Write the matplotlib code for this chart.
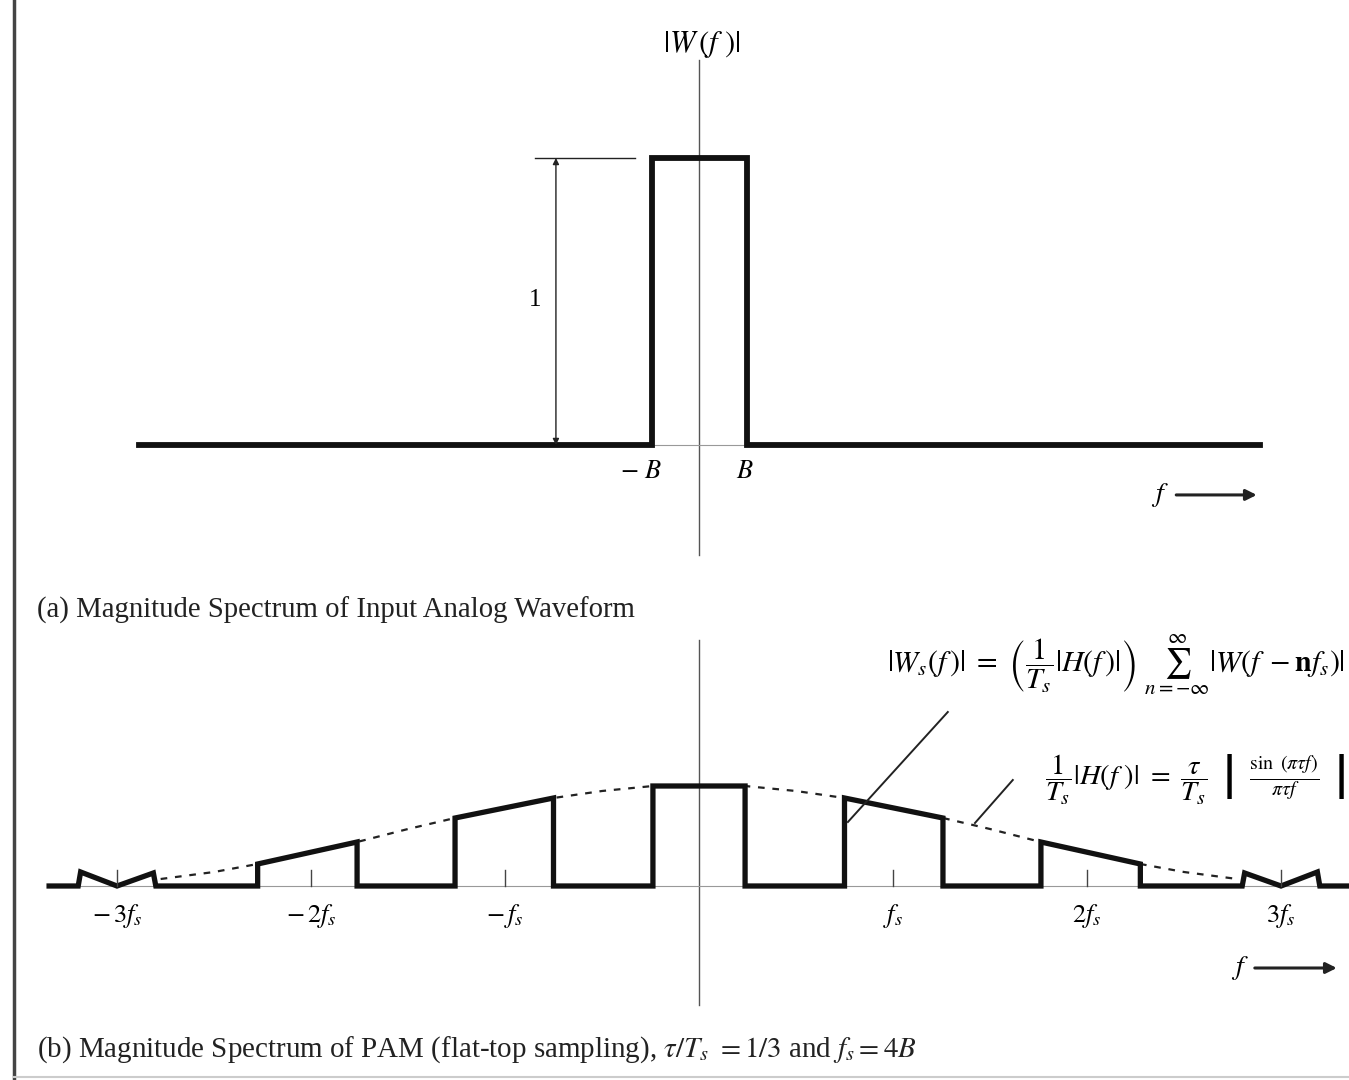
import numpy as np
import matplotlib.pyplot as plt
from matplotlib.lines import Line2D

plt.rcParams['font.family'] = ['Liberation Serif', 'DejaVu Serif']
plt.rcParams['mathtext.fontset'] = 'stix'

# === DATA (frequency in units of B, magnitude relative to the centre block) === #
# (a) input spectrum |W(f)|
w_f = [-11.55, -0.97, -0.97, 0.99, 0.99, 11.57]
w_mag = [0, 0, 1, 1, 0, 0]

# (b) PAM spectrum |Ws(f)|, flat-top sampling
ws_f = [-13.4, -12.8, -12.75, -12.0, -11.25, -11.2, -9.1, -9.1, -7.05, -7.05,
        -5.03, -5.03, -3.0, -3.0, -0.95, -0.95, 0.95, 0.95, 3.0, 3.0,
        5.03, 5.03, 7.05, 7.05, 9.1, 9.1, 11.2, 11.25, 12.0, 12.75, 12.8, 13.4]
ws_mag = [0, 0, 0.14, 0, 0.13, 0, 0, 0.22, 0.44, 0,
          0, 0.68, 0.88, 0, 0, 1.0, 1.0, 0, 0, 0.88,
          0.68, 0, 0, 0.44, 0.22, 0, 0, 0.13, 0, 0.14, 0, 0]

# envelope (1/Ts)|H(f)|, dashed
env_f = [-11.1, -10, -9.1, -8, -7.05, -6, -5.03, -4, -3.0, -2, -0.95,
         0.95, 2, 3.0, 4, 5.03, 6, 7.05, 8, 9.1, 10, 11.1]
env_mag = [0.07, 0.14, 0.22, 0.33, 0.44, 0.57, 0.68, 0.78, 0.88, 0.95, 1.0,
           1.0, 0.95, 0.88, 0.78, 0.68, 0.57, 0.44, 0.33, 0.22, 0.14, 0.07]

tick_pos = [-12, -8, -4, 4, 8, 12]
tick_lab = [r'$-\,3f_s$', r'$-\,2f_s$', r'$-\,f_s$', r'$f_s$', r'$2f_s$', r'$3f_s$']

# === FIGURE === #
W, H = 1349, 1080
fig = plt.figure(figsize=(W / 100, H / 100), dpi=100)
px_B = 48.5
x0 = 699
xlim = (-x0 / px_B, (W - x0) / px_B)

# --- (a) --- #
ax1 = fig.add_axes([0, (H - 580) / H, 1, 560 / H])
ax1.set_xlim(xlim)
ax1.set_ylim((445 - 580) / 287, (445 - 20) / 287)
ax1.axis('off')

ax1.plot([0, 0], [-0.383, 1.34], color='#555555', lw=1.0)
ax1.plot([-0.97, 0.99], [0, 0], color='#999999', lw=0.8)
ax1.plot(w_f, w_mag, color='#111111', lw=4.2, solid_joinstyle='miter')
ax1.text(0.05, 1.394, r'$|W\,(f\ )|$', ha='center', va='center', fontsize=22)

# height marker "1"
ax1.plot([-3.38, -1.32], [1, 1], color='#222222', lw=1.0)
ax1.annotate('', xy=(-2.95, 1), xytext=(-2.95, 0),
             arrowprops=dict(arrowstyle='<|-|>', color='#222222', lw=1.0,
                             mutation_scale=9, shrinkA=0, shrinkB=0))
ax1.text(-3.38, 0.505, '1', ha='center', va='center', fontsize=18)

ax1.text(-1.2, -0.094, r'$-\ B$', ha='center', va='center', fontsize=19)
ax1.text(0.95, -0.094, r'$B$', ha='center', va='center', fontsize=19)
ax1.text(9.5, -0.174, r'$f$', ha='center', va='center', fontsize=20)
ax1.annotate('', xy=(11.5, -0.174), xytext=(9.84, -0.174),
             arrowprops=dict(arrowstyle='-|>', color='#222222', lw=2.2,
                             mutation_scale=16, shrinkA=0, shrinkB=0))

# --- (b) --- #
ax2 = fig.add_axes([0, 40 / H, 1, 420 / H])
ax2.set_xlim(xlim)
ax2.set_ylim((886 - 1040) / 100, (886 - 620) / 100)
ax2.axis('off')

ax2.plot([0, 0], [-1.19, 2.46], color='#555555', lw=1.0)
ax2.plot([-13.4, 13.4], [0, 0], color='#999999', lw=0.8)
ax2.plot(env_f, env_mag, color='#222222', lw=1.6, ls=(0, (3, 3.5)))
ax2.plot(ws_f, ws_mag, color='#111111', lw=3.8, solid_joinstyle='miter')

for p, lab in zip(tick_pos, tick_lab):
    ax2.plot([p, p], [0, 0.16], color='#444444', lw=1.0)
    ax2.text(p, -0.3, lab, ha='center', va='center', fontsize=19)

ax2.text(11.15, -0.82, r'$f$', ha='center', va='center', fontsize=20)
ax2.annotate('', xy=(13.15, -0.82), xytext=(11.46, -0.82),
             arrowprops=dict(arrowstyle='-|>', color='#222222', lw=2.2,
                             mutation_scale=16, shrinkA=0, shrinkB=0))

ax2.text(13.32, 2.21,
         r'$|W_s(f\,)|\ =\ \left(\dfrac{1}{T_s}|H(f\,)|\right)\ \sum_{n=-\infty}^{\infty}|W(f\ -\mathbf{n}f_s)|$',
         ha='right', va='center', fontsize=21.5)
ax2.plot([5.13, 3.07], [1.74, 0.64], color='#222222', lw=1.4)

ax2.text(13.32, 1.06,
         r'$\dfrac{1}{T_s}|H(f\ )|\ =\ \dfrac{\tau}{T_s}\ \ \left|\ \ \frac{\sin\ (\pi\tau f)}{\pi\tau f}\ \ \right|$',
         ha='right', va='center', fontsize=20.5)
ax2.plot([6.47, 5.69], [1.06, 0.63], color='#222222', lw=1.4)

# captions
fig.text(37 / W, 1 - 610 / H, '(a) Magnitude Spectrum of Input Analog Waveform',
         ha='left', va='center', fontsize=20.7, color='#222222')
fig.text(37 / W, 1 - 1050 / H,
         r'(b) Magnitude Spectrum of PAM (flat-top sampling), $\tau/T_s\ = 1/3$ and $f_s = 4B$',
         ha='left', va='center', fontsize=20.9, color='#222222')

# page borders
fig.add_artist(Line2D([14 / W, 14 / W], [0, 1], color='#444444', lw=2.5))
fig.add_artist(Line2D([14 / W, 1], [3 / H, 3 / H], color='#cccccc', lw=1.5))

fig.savefig('out.png', dpi=100)
